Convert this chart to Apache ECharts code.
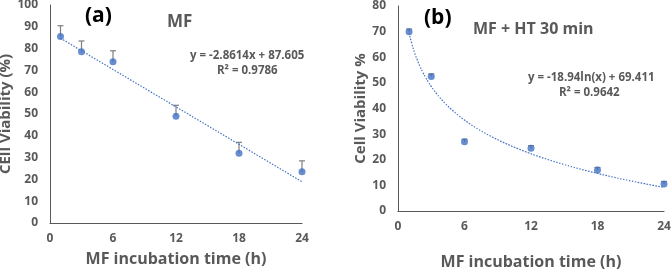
<!DOCTYPE html>
<html>
<head>
<meta charset="utf-8">
<script src="https://cdn.jsdelivr.net/npm/echarts@6/dist/echarts.min.js"></script>
<style>
  * { margin: 0; padding: 0; }
  body { background: #fff; }
  #main { width: 672px; height: 271px; }
</style>
</head>
<body>
<div id="main"></div>
<script>
// incubation times (h)
var timesA = [1, 3, 6, 12, 18, 24];
var viabilityA = [85.5, 78.5, 74, 49, 32, 23.5];
var errA = [5, 5, 5, 5, 5, 5];

var timesB = [1, 3, 6, 12, 18, 24];
var viabilityB = [70, 52.5, 27, 24.5, 16, 10.5];
var errB = [1, 1, 1, 1, 1, 1];

// fitted trend lines as printed on the figure
var slopeA = -2.8614, interceptA = 87.605;
var lnCoefB = -18.94, lnConstB = 69.411;

var trendA = [], trendB = [];
for (var t = 1; t <= 24; t += 0.25) {
    trendA.push([t, slopeA * t + interceptA]);
    trendB.push([t, lnCoefB * Math.log(t) + lnConstB]);
}

function pairs(xs, ys) {
    return xs.map(function (x, i) { return [x, ys[i]]; });
}

var tickColor = '#595959';
var font = 'Open Sans';
var blue = '#4472C4';

function errorSeries(xi, yi, xs, ys, errs) {
    return {
        type: 'custom', xAxisIndex: xi, yAxisIndex: yi, z: 1,
        data: xs.map(function (x, i) { return [x, ys[i], ys[i] + errs[i]]; }),
        renderItem: function (params, api) {
            var p0 = api.coord([api.value(0), api.value(1)]);
            var p1 = api.coord([api.value(0), api.value(2)]);
            return {
                type: 'group',
                children: [
                    { type: 'line', shape: { x1: p0[0], y1: p0[1], x2: p1[0], y2: p1[1] }, style: { stroke: '#7f7f7f', lineWidth: 1.2 } },
                    { type: 'line', shape: { x1: p1[0] - 3, y1: p1[1], x2: p1[0] + 3, y2: p1[1] }, style: { stroke: '#7f7f7f', lineWidth: 1.2 } }
                ]
            };
        }
    };
}

function xAx(gi, name, gap) {
    return {
        type: 'value', gridIndex: gi, min: 0, max: 24, interval: 6,
        name: name, nameLocation: 'middle', nameGap: gap,
        nameTextStyle: { color: tickColor, fontFamily: font, fontWeight: 'bold', fontSize: 16 },
        axisLine: { lineStyle: { color: '#d9d9d9' } },
        axisTick: { show: false }, splitLine: { show: false },
        axisLabel: { color: tickColor, fontFamily: font, fontWeight: 'bold', fontSize: 12, margin: 10 }
    };
}
function xTop(gi) {
    return {
        type: 'value', gridIndex: gi, min: 0, max: 24, position: 'top',
        axisLine: { lineStyle: { color: '#595959' } },
        axisTick: { show: false }, axisLabel: { show: false }, splitLine: { show: false }
    };
}
function yAx(gi, max, name, gap) {
    return {
        type: 'value', gridIndex: gi, min: 0, max: max, interval: 10,
        name: name, nameLocation: 'middle', nameGap: gap,
        nameTextStyle: { color: tickColor, fontFamily: font, fontWeight: 'bold', fontSize: 15 },
        axisLine: { show: true, lineStyle: { color: '#d9d9d9' } },
        axisTick: { show: false }, splitLine: { show: false },
        axisLabel: { color: tickColor, fontFamily: font, fontWeight: 'bold', fontSize: 12, margin: 12 }
    };
}
function yRight(gi, max) {
    return {
        type: 'value', gridIndex: gi, min: 0, max: max, position: 'right',
        axisLine: { show: true, lineStyle: { color: '#595959' } },
        axisTick: { show: false }, axisLabel: { show: false }, splitLine: { show: false }
    };
}

var chart = echarts.init(document.getElementById('main'));
chart.setOption({
    animation: false,
    grid: [
        { left: 50, top: 5, width: 252, height: 218, outerBoundsMode: 'none', containLabel: false },
        { left: 398, top: 6, width: 266, height: 205, outerBoundsMode: 'none', containLabel: false }
    ],
    xAxis: [xAx(0, 'MF incubation time (h)', 28), xTop(0), xAx(1, 'MF incubation time (h)', 43), xTop(1)],
    yAxis: [yAx(0, 100, 'CEll Viability (%)', 28), yRight(0, 100), yAx(1, 80, 'Cell Viability %', 26), yRight(1, 80)],
    graphic: [
        { type: 'text', left: 85, top: 6, style: { text: '(a)', font: 'bold 21px "Open Sans"', fill: '#000' } },
        { type: 'text', left: 167, top: 14, style: { text: 'MF', font: 'bold 17px "Open Sans"', fill: tickColor } },
        { type: 'text', left: 190, top: 50, style: { text: 'y = -2.8614x + 87.605', font: 'bold 11.5px "Open Sans"', fill: tickColor } },
        { type: 'text', left: 217, top: 65, style: { text: 'R² = 0.9786', font: 'bold 11.5px "Open Sans"', fill: tickColor } },
        { type: 'text', left: 424, top: 8, style: { text: '(b)', font: 'bold 21px "Open Sans"', fill: '#000' } },
        { type: 'text', left: 473, top: 21, style: { text: 'MF + HT 30 min', font: 'bold 16px "Open Sans"', fill: tickColor } },
        { type: 'text', left: 528, top: 72, style: { text: 'y = -18.94ln(x) + 69.411', font: 'bold 11.5px "Open Sans"', fill: tickColor } },
        { type: 'text', left: 559, top: 87, style: { text: 'R² = 0.9642', font: 'bold 11.5px "Open Sans"', fill: tickColor } }
    ],
    series: [
        { type: 'line', xAxisIndex: 0, yAxisIndex: 0, data: trendA, showSymbol: false,
          lineStyle: { color: blue, width: 1.2, type: [1.5, 1.5] }, z: 2 },
        errorSeries(0, 0, timesA, viabilityA, errA),
        { type: 'scatter', xAxisIndex: 0, yAxisIndex: 0, data: pairs(timesA, viabilityA), symbolSize: 7,
          itemStyle: { color: blue }, z: 3 },
        { type: 'line', xAxisIndex: 2, yAxisIndex: 2, data: trendB, showSymbol: false, smooth: true,
          lineStyle: { color: blue, width: 1.2, type: [1.5, 1.5] }, z: 2 },
        errorSeries(2, 2, timesB, viabilityB, errB),
        { type: 'scatter', xAxisIndex: 2, yAxisIndex: 2, data: pairs(timesB, viabilityB), symbolSize: 7,
          itemStyle: { color: blue }, z: 3 }
    ]
});
</script>
</body>
</html>
